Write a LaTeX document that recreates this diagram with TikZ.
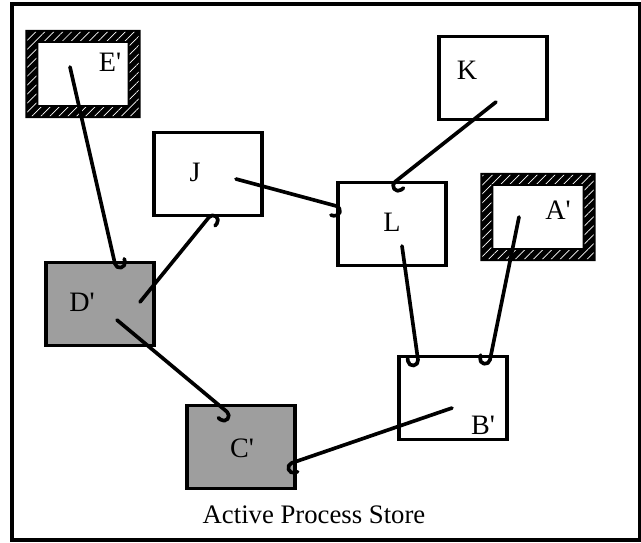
\documentclass[tikz,border=0pt]{standalone}
\usepackage{fontspec}
\setmainfont{Liberation Serif}
\usetikzlibrary{calc,patterns.meta}

% one unit = one pixel of the final picture
\newcommand\unitpx{0.025cm}
\newcommand\prm{\textquotesingle}

% thick rope-like border round a ring box
\newcommand\hatchframe[1]{%
  \fill[black, even odd rule] (#1.south west) rectangle (#1.north east)
    ([shift={(13,-13)}]#1.south west) rectangle ([shift={(-13,13)}]#1.north east);
  \fill[pattern={Lines[angle=45, distance=4.5pt, line width=.5pt]}, pattern color=white, even odd rule]
    ([shift={(2,-2)}]#1.south west) rectangle ([shift={(-2,2)}]#1.north east)
    ([shift={(11,-11)}]#1.south west) rectangle ([shift={(-11,11)}]#1.north east);
}

\tikzset{
    box/.style={rectangle, draw, line width=2.4pt, fill=white, inner sep=0pt,
        minimum width=108*\unitpx, minimum height=83*\unitpx},
    grey box/.style={box, fill=black!38},
    ring box/.style={box, draw=none, fill=none,
        minimum width=112*\unitpx, minimum height=85*\unitpx},
    % pointer that curls at its head: #1=1 turns right, #1=-1 turns left
    ptr/.style={line width=2.6pt, line cap=round, line join=round,
        to path={let \p1=(\tikztostart), \p2=(\tikztotarget),
                     \n1={atan2(\y2-\y1,\x2-\x1)} in
            -- (\tikztotarget) arc[start angle=\n1+90*#1, delta angle=-180*#1, radius=3.6pt]
            -- ++(\n1+180:2pt)}},
    tag/.style={font=\fontsize{20}{24}\selectfont, inner sep=0pt},
    caption/.style={tag, font=\fontsize{19}{23}\selectfont},
}

\begin{document}
\begin{tikzpicture}[x=\unitpx, y=-\unitpx]
    \useasboundingbox (0,0) rectangle (641,542);
    \draw[line width=2.4pt] (12,4) rectangle (640,540);

    % processes
    \node[ring box] (Ep) at (83,74) {};
    \hatchframe{Ep}
    \node[box] (J) at (208,174) {};
    \node[box] (K) at (493,78) {};
    \node[box] (L) at (392,224) {};
    \node[ring box] (Ap) at (538,217) {};
    \hatchframe{Ap}
    \node[box] (Bp) at (453,398) {};
    \node[grey box] (Dp) at (100,304) {};
    \node[grey box] (Cp) at (241,447) {};

    % pointers
    \draw[ptr=-1] ($(Ep.center)+(-13,-7)$) to ($(Dp.north)+(15,3)$);
    \draw[ptr=1] ($(J.center)+(28,5)$) to ($(L.west)+(0,-18)$);
    \draw[ptr=-1] ($(K.center)+(3,24)$) to ($(L.north)+(3,1)$);
    \draw[ptr=1] ($(Ap.center)+(-19,0)$) to ($(Bp.north)+(37,5)$);
    \draw[ptr=1] ($(L.center)+(10,22)$) to ($(Bp.north)+(-35,5)$);
    \draw[ptr=1] ($(Dp.center)+(40,-2)$) to ($(J.south)+(1,0)$);
    \draw[ptr=1] ($(Dp.center)+(17,16)$) to ($(Cp.north)+(-14,8)$);
    \draw[ptr=-1] ($(Bp.center)+(-1,10)$) to ($(Cp.east)+(-5,16)$);

    \node[tag] (Ep label) at (110,62) {E\prm};
    \node[tag] (J label) at (195,172) {J};
    \node[tag] (K label) at (467,70) {K};
    \node[tag] (L label) at (392,222) {L};
    \node[tag] (Ap label) at (558,210) {A\prm};
    \node[tag] (Bp label) at (483,425) {B\prm};
    \node[tag] (Dp label) at (82,302) {D\prm};
    \node[tag] (Cp label) at (242,448) {C\prm};
    \node[caption] (store) at (314,515) {Active Process Store};
\end{tikzpicture}
\end{document}
